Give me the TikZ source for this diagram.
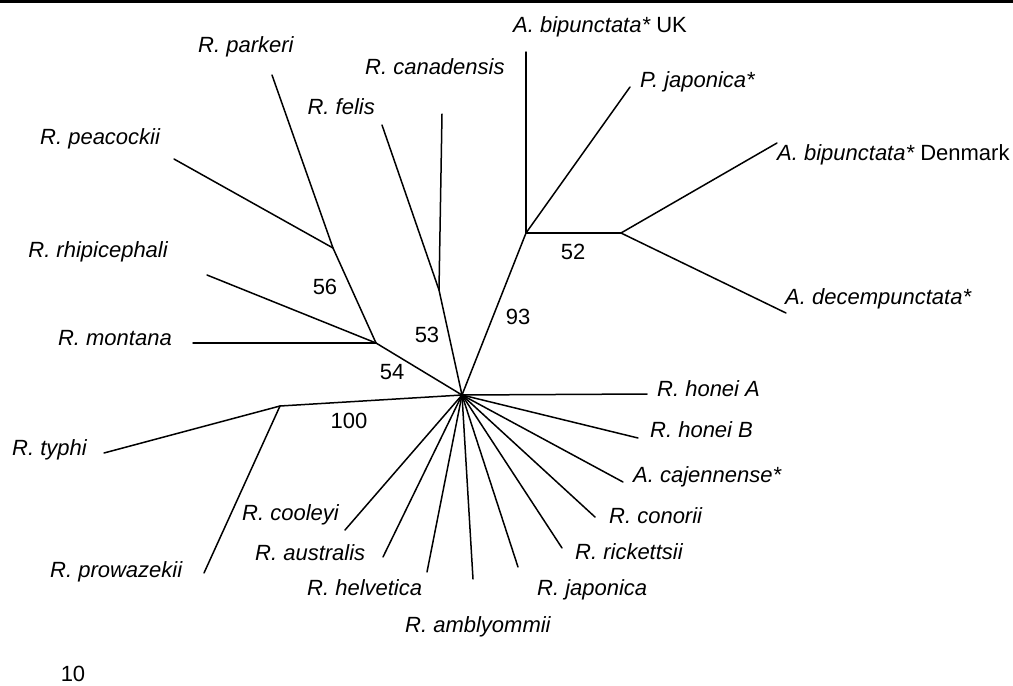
\documentclass[tikz,border=0pt]{standalone}
\usepackage{fontspec}
\setmainfont{Liberation Sans}
\begin{document}
\begin{tikzpicture}[x=1pt,y=-1pt,
  branch/.style={line width=1.5pt,line cap=round,line join=round},
  lbl/.style={inner sep=0pt,text height=15.5pt,text depth=0pt,font=\fontsize{22}{24}\selectfont\itshape},
  num/.style={inner sep=0pt,font=\fontsize{22}{24}\selectfont}]
\useasboundingbox (0,0) rectangle (1013,686);
\coordinate (tl) at (0,1.3);
\coordinate (tr) at (1013,1.3);
\draw[line width=2.7pt] (tl) -- (tr);
% internal nodes
\coordinate (C) at (462,395);
\coordinate (n54) at (376,343);
\coordinate (n56) at (333,248);
\coordinate (n53) at (439,290);
\coordinate (n93) at (526,233);
\coordinate (n52) at (621,233);
\coordinate (n100) at (280,406);
% leaf ends
\coordinate (parkeri) at (272,75);
\coordinate (peacockii) at (174,159);
\coordinate (rhipicephali) at (207,275);
\coordinate (montana) at (193,343);
\coordinate (felis) at (382,125);
\coordinate (canadensis) at (442,114);
\coordinate (bipUK) at (526,52);
\coordinate (pjap) at (630,87);
\coordinate (bipDK) at (777,143);
\coordinate (decem) at (786,313);
\coordinate (honeiA) at (647,394);
\coordinate (honeiB) at (638,438);
\coordinate (cajen) at (623,482);
\coordinate (conorii) at (595,517);
\coordinate (rickettsii) at (562,548);
\coordinate (japonica) at (518,567);
\coordinate (amblyommii) at (473,579);
\coordinate (helvetica) at (427,572);
\coordinate (australis) at (383,557);
\coordinate (cooleyi) at (345,530);
\coordinate (typhi) at (104,453);
\coordinate (prowazekii) at (204,573);
% branches
\draw[branch] (C) -- (n54);
\draw[branch] (n54) -- (montana);
\draw[branch] (n54) -- (rhipicephali);
\draw[branch] (n54) -- (n56);
\draw[branch] (n56) -- (peacockii);
\draw[branch] (n56) -- (parkeri);
\draw[branch] (C) -- (n53);
\draw[branch] (n53) -- (felis);
\draw[branch] (n53) -- (canadensis);
\draw[branch] (C) -- (n93);
\draw[branch] (n93) -- (bipUK);
\draw[branch] (n93) -- (pjap);
\draw[branch] (n93) -- (n52);
\draw[branch] (n52) -- (bipDK);
\draw[branch] (n52) -- (decem);
\draw[branch] (C) -- (n100);
\draw[branch] (n100) -- (typhi);
\draw[branch] (n100) -- (prowazekii);
\foreach \t in {honeiA,honeiB,cajen,conorii,rickettsii,japonica,amblyommii,helvetica,australis,cooleyi}
  \draw[branch] (C) -- (\t);
% labels
\node[lbl,anchor=west] (Lparkeri) at (198,45) {R. parkeri};
\node[lbl,anchor=west] (Lpeacockii) at (40,137) {R. peacockii};
\node[lbl,anchor=east] (Lrhipicephali) at (168,250) {R. rhipicephali};
\node[lbl,anchor=east] (Lmontana) at (172,338) {R. montana};
\node[lbl,anchor=east] (Lfelis) at (375,107) {R. felis};
\node[lbl,anchor=west] (Lcanadensis) at (365,67) {R. canadensis};
\node[lbl,anchor=west] (LbipUK) at (513,25) {A. bipunctata*\upshape\ UK};
\node[lbl,anchor=west] (Lpjap) at (640,80) {P. japonica*};
\node[lbl,anchor=west] (LbipDK) at (777,153) {A. bipunctata*\upshape\ Denmark};
\node[lbl,anchor=west] (Ldecem) at (785,297) {A. decempunctata*};
\node[lbl,anchor=west] (LhoneiA) at (657,389) {R. honei A};
\node[lbl,anchor=west] (LhoneiB) at (650,430) {R. honei B};
\node[lbl,anchor=west] (Lcajen) at (633,475) {A. cajennense*};
\node[lbl,anchor=west] (Lconorii) at (609,516) {R. conorii};
\node[lbl,anchor=west] (Lrickettsii) at (575,552) {R. rickettsii};
\node[lbl,anchor=west] (Ljaponica) at (537,588) {R. japonica};
\node[lbl,anchor=west] (Lamblyommii) at (405,625) {R. amblyommii};
\node[lbl,anchor=west] (Lhelvetica) at (307,588) {R. helvetica};
\node[lbl,anchor=west] (Laustralis) at (255,553) {R. australis};
\node[lbl,anchor=west] (Lcooleyi) at (242,513) {R. cooleyi};
\node[lbl,anchor=west] (Ltyphi) at (12,448) {R. typhi};
\node[lbl,anchor=west] (Lprowazekii) at (50,570) {R. prowazekii};
% support values
\node[num] (b56) at (325,287) {56};
\node[num] (b53) at (427,335) {53};
\node[num] (b54) at (392,372) {54};
\node[num] (b93) at (518,317) {93};
\node[num] (b52) at (573,252) {52};
\node[num] (b100) at (349,421) {100};
\node[num] (b10) at (73,674) {10};
\end{tikzpicture}
\end{document}
